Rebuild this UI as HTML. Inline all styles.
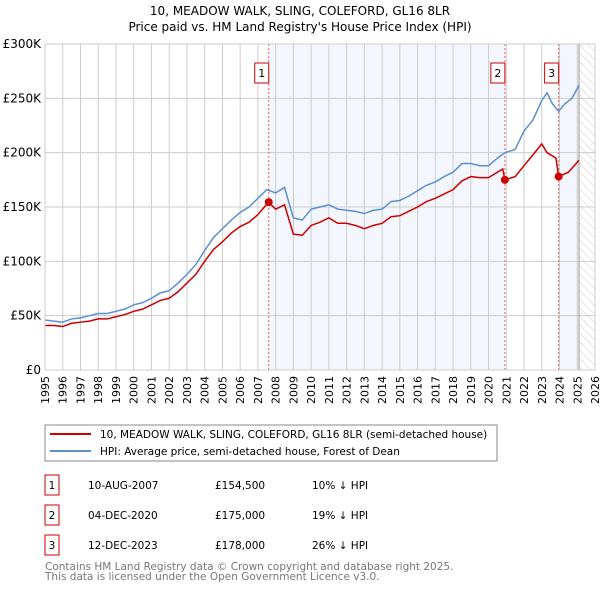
<!DOCTYPE html>
<html><head><meta charset="utf-8"><style>
body{margin:0;background:#fff;font-family:"DejaVu Sans","Liberation Sans",sans-serif;}
svg text{font-family:"DejaVu Sans","Liberation Sans",sans-serif;}
</style></head><body>
<svg id="c" width="600" height="590" xmlns="http://www.w3.org/2000/svg">
<defs><pattern id="hatch" width="6" height="6" patternUnits="userSpaceOnUse" patternTransform="rotate(-45)"><line x1="0" y1="0" x2="0" y2="6" stroke="#ccc" stroke-width="1"/></pattern></defs>
<text x="300" y="15" text-anchor="middle" font-size="12">10, MEADOW WALK, SLING, COLEFORD, GL16 8LR</text>
<text x="300" y="31" text-anchor="middle" font-size="12">Price paid vs. HM Land Registry's House Price Index (HPI)</text>
<g id="plot"></g>
<rect x="45" y="425" width="452" height="36" fill="#fff" stroke="#888"/>
<line x1="50" y1="434" x2="91" y2="434" stroke="#cc0000" stroke-width="2"/>
<text x="100" y="438" font-size="10.5">10, MEADOW WALK, SLING, COLEFORD, GL16 8LR (semi-detached house)</text>
<line x1="50" y1="451" x2="91" y2="451" stroke="#5b8fd0" stroke-width="2"/>
<text x="100" y="455" font-size="10.5">HPI: Average price, semi-detached house, Forest of Dean</text>
<g id="table"></g>
<text x="45" y="570" font-size="10.5" fill="#777">Contains HM Land Registry data © Crown copyright and database right 2025.</text>
<text x="45" y="580" font-size="10.5" fill="#777">This data is licensed under the Open Government Licence v3.0.</text>
</svg>
<script>
const hpiYears=[1995,1995.5,1996,1996.5,1997,1997.5,1998,1998.5,1999,1999.5,2000,2000.5,2001,2001.5,2002,2002.5,2003,2003.5,2004,2004.5,2005,2005.5,2006,2006.5,2007,2007.5,2008,2008.5,2009,2009.5,2010,2010.5,2011,2011.5,2012,2012.5,2013,2013.5,2014,2014.5,2015,2015.5,2016,2016.5,2017,2017.5,2018,2018.5,2019,2019.5,2020,2020.5,2020.92,2021.5,2022,2022.5,2023,2023.3,2023.6,2023.95,2024.3,2024.7,2025.1];
const hpiValues=[46,45,44,47,48,50,52,52,54,56,60,62,66,71,73,80,88,97,110,122,130,138,145,150,158,166,163,168,140,138,148,150,152,148,147,146,144,147,148,155,156,160,165,170,173,178,182,190,190,188,188,195,200,203,220,230,248,255,245,238,245,250,262];
const priceYears=[1995,1995.5,1996,1996.5,1997,1997.5,1998,1998.5,1999,1999.5,2000,2000.5,2001,2001.5,2002,2002.5,2003,2003.5,2004,2004.5,2005,2005.5,2006,2006.5,2007,2007.6,2008,2008.5,2009,2009.5,2010,2010.5,2011,2011.5,2012,2012.5,2013,2013.5,2014,2014.5,2015,2015.5,2016,2016.5,2017,2017.5,2018,2018.5,2019,2019.5,2020,2020.8,2020.92,2021.5,2022,2022.5,2023,2023.3,2023.8,2023.95,2024.5,2025.1];
const priceValues=[41,41,40,43,44,45,47,47,49,51,54,56,60,64,66,72,80,88,100,111,118,126,132,136,143,154.5,148,152,125,124,133,136,140,135,135,133,130,133,135,141,142,146,150,155,158,162,166,174,178,177,177,185,175,178,188,198,208,200,195,178,182,193];
const sales=[{n:"1",t:2007.61,v:154.5,d:"10-AUG-2007",p:"£154,500",h:"10% ↓ HPI"},{n:"2",t:2020.92,v:175,d:"04-DEC-2020",p:"£175,000",h:"19% ↓ HPI"},{n:"3",t:2023.95,v:178,d:"12-DEC-2023",p:"£178,000",h:"26% ↓ HPI"}];
const yTicks=[0,50,100,150,200,250,300];
const yTickLabels=["£0","£50K","£100K","£150K","£200K","£250K","£300K"];
const x0=45,x1=595,yTop=44,yBot=370;
const X=t=>x0+(t-1995)/(2026-1995)*(x1-x0);
const Y=v=>yBot-v/300*(yBot-yTop);
const NS="http://www.w3.org/2000/svg";
const plot=document.getElementById('plot');
function mk(tag,attrs,parent){const e=document.createElementNS(NS,tag);for(const k in attrs)e.setAttribute(k,attrs[k]);(parent||plot).appendChild(e);return e;}
let r;
r=mk('rect',{x:X(sales[0].t),y:yTop,width:X(sales[1].t)-X(sales[0].t),height:yBot-yTop,fill:'#eef3fc',opacity:0.7});


r=mk('rect',{x:X(sales[2].t),y:yTop,width:X(2025.1)-X(sales[2].t),height:yBot-yTop,fill:'#eef3fc',opacity:0.7});


r=mk('rect',{x:X(2025.1),y:yTop,width:x1-X(2025.1),height:yBot-yTop,fill:'url(#hatch)'});


for(let yr=1995;yr<=2026;yr++){
 const l=mk('line',{x1:X(yr),x2:X(yr),y1:yTop,y2:yBot,stroke:'#ccc'});
 
 
 const t=mk('text',{x:0,y:0,'font-size':11,'text-anchor':'end',transform:`translate(${X(yr)+4},${yBot+6}) rotate(-90)`});
 t.textContent=yr;
 
 
}
yTicks.forEach((v,i)=>{
 const l=mk('line',{x1:x0,x2:x1,y1:Y(v),y2:Y(v),stroke:'#ccc'});
 
 
 const t=mk('text',{x:x0-4,y:Y(v)+4,'font-size':12,'text-anchor':'end'});
 t.textContent=yTickLabels[i];
 
 
});
r=mk('line',{x1:X(2025.1),x2:X(2025.1),y1:yTop,y2:yBot,stroke:'#999'});


sales.forEach(s=>{
 const l=mk('line',{x1:X(s.t),x2:X(s.t),y1:yTop,y2:yBot,stroke:'#e66','stroke-dasharray':'2,2'});
 
 
 const b=mk('rect',{x:X(s.t)-14,y:63,width:14,height:20,fill:'#fff',stroke:'#cc0000'});
 
 
 const t=mk('text',{x:X(s.t)-7,y:77,'font-size':11,'text-anchor':'middle'});
 t.textContent=s.n;
 
 
});
const hp=mk('polyline',{points:hpiYears.map((t,i)=>X(t)+','+Y(hpiValues[i])).join(' '),fill:'none',stroke:'#5b8fd0','stroke-width':1.5});


const pp=mk('polyline',{points:priceYears.map((t,i)=>X(t)+','+Y(priceValues[i])).join(' '),fill:'none',stroke:'#cc0000','stroke-width':1.5});


sales.forEach(s=>{
 const c=mk('circle',{cx:X(s.t),cy:Y(s.v),r:4,fill:'#cc0000'});
 
 
});
r=mk('rect',{x:x0,y:yTop,width:x1-x0,height:yBot-yTop,fill:'none',stroke:'#ccc'});


const tb=document.getElementById('table');
sales.forEach((s,i)=>{
 const y0=475+i*30;
 const b=mk('rect',{x:45,y:y0,width:14,height:20,fill:'#fff',stroke:'#cc0000'},tb);
 
 
 const vals=[[52,s.n,'middle'],[88,s.d,'start'],[215,s.p,'start'],[312,s.h,'start']];
 vals.forEach(v=>{
  const t=mk('text',{x:v[0],y:y0+14,'font-size':10.5,'text-anchor':v[2]},tb);
  t.textContent=v[1];
  
  
 });
});
</script>
</body></html>
